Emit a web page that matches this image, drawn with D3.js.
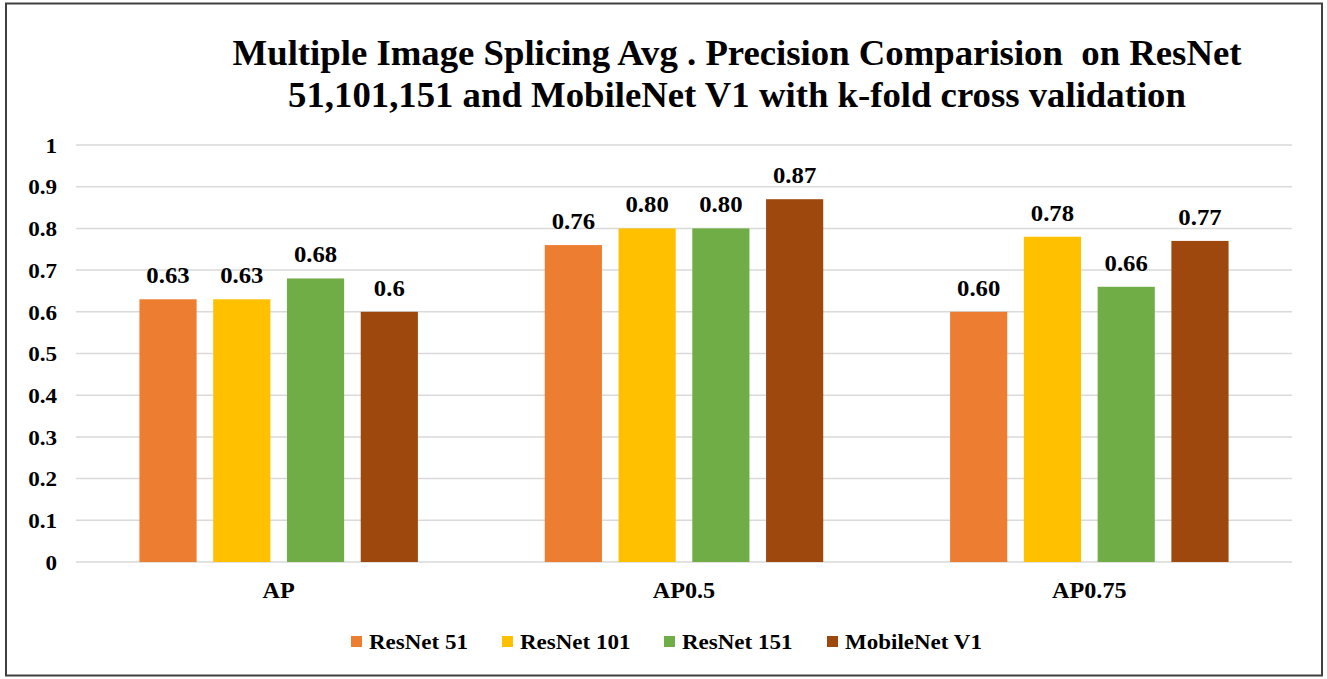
<!DOCTYPE html>
<html><head><meta charset="utf-8">
<script src="https://cdn.jsdelivr.net/npm/d3@7"></script>
<style>body{margin:0;background:#fff}svg{display:block}</style>
</head><body><svg id="c" width="1327" height="679"></svg>
<script>
const categories = ["AP", "AP0.5", "AP0.75"];
const seriesNames = ["ResNet 51", "ResNet 101", "ResNet 151", "MobileNet V1"];
const resnet51 = [0.63, 0.76, 0.60];
const resnet101 = [0.63, 0.80, 0.78];
const resnet151 = [0.68, 0.80, 0.66];
const mobilenetV1 = [0.60, 0.87, 0.77];
const valueLabels = [
  ["0.63", "0.76", "0.60"],
  ["0.63", "0.80", "0.78"],
  ["0.68", "0.80", "0.66"],
  ["0.6", "0.87", "0.77"]
];
const yTicks = [0, 0.1, 0.2, 0.3, 0.4, 0.5, 0.6, 0.7, 0.8, 0.9, 1];
const colors = ["#ED7D31", "#FFC000", "#70AD47", "#9E480E"];
const titleLines = ["Multiple Image Splicing Avg . Precision Comparision\u00a0 on ResNet", "51,101,151 and MobileNet V1 with k-fold cross validation"];

const series = [resnet51, resnet101, resnet151, mobilenetV1];
const svg = d3.select("#c")
  .attr("font-family", "Liberation Serif")
  .attr("font-weight", "bold");

function stretched(sel, x, y, sx) {
  return sel.attr("x", 0).attr("y", 0).attr("transform", `translate(${x},${y}) scale(${sx},1)`);
}

// frame
svg.append("rect").attr("x", 6).attr("y", 3.5).attr("width", 1316).attr("height", 672)
  .attr("fill", "#fff").attr("stroke", "#404040").attr("stroke-width", 2);

const plotL = 76, plotR = 1292, plotT = 145, plotB = 562;
const y = d3.scaleLinear().domain([0, 1]).range([plotB, plotT]);
const x0 = d3.scaleBand().domain(categories).range([plotL, plotR]).padding(0);
const x1 = d3.scaleBand().domain(d3.range(seriesNames.length)).range([0, x0.bandwidth()])
  .paddingInner(0.225).paddingOuter(0.86);

// gridlines
svg.append("g").selectAll("line").data(yTicks).join("line")
  .attr("x1", plotL).attr("x2", plotR)
  .attr("y1", d => y(d)).attr("y2", d => y(d))
  .attr("stroke", "#d9d9d9").attr("stroke-width", 1.5);

// y tick labels
svg.append("g").selectAll("text").data(yTicks).join("text")
  .attr("text-anchor", "end").attr("dy", "0.35em").attr("font-size", 22)
  .text(d => d3.format("")(+d.toFixed(1)))
  .each(function(d) { stretched(d3.select(this), 57, y(d), 1.05); });

// bars
const groups = svg.append("g").selectAll("g").data(categories).join("g")
  .attr("transform", d => `translate(${x0(d)},0)`);
groups.each(function(cat, ci) {
  const g = d3.select(this);
  series.forEach((s, si) => {
    g.append("rect").attr("x", x1(si)).attr("width", x1.bandwidth())
      .attr("y", y(s[ci])).attr("height", y(0) - y(s[ci])).attr("fill", colors[si]);
    const t = g.append("text").attr("text-anchor", "middle").attr("font-size", 22.5).text(valueLabels[si][ci]);
    stretched(t, x1(si) + x1.bandwidth() / 2, y(s[ci]) - 16, 1.1);
  });
});

// category labels
svg.append("g").selectAll("text").data(categories).join("text")
  .attr("text-anchor", "middle").attr("font-size", 23).text(d => d)
  .each(function(d) { stretched(d3.select(this), x0(d) + x0.bandwidth() / 2, 598, 1.05); });

// title
titleLines.forEach((line, i) => {
  const t = svg.append("text").attr("text-anchor", "middle").attr("font-size", 35).text(line);
  stretched(t, 737, 65 + i * 42, 1.05);
});

// legend
const legendX = [351, 502, 664, 827];
const lg = svg.append("g").selectAll("g").data(seriesNames).join("g")
  .attr("transform", (d, i) => `translate(${legendX[i]},636)`);
lg.append("rect").attr("width", 11).attr("height", 11).attr("fill", (d, i) => colors[i]);
lg.append("text").attr("font-size", 20).text(d => d)
  .each(function() { stretched(d3.select(this), 18, 12.5, 1.15); });
</script></body></html>
